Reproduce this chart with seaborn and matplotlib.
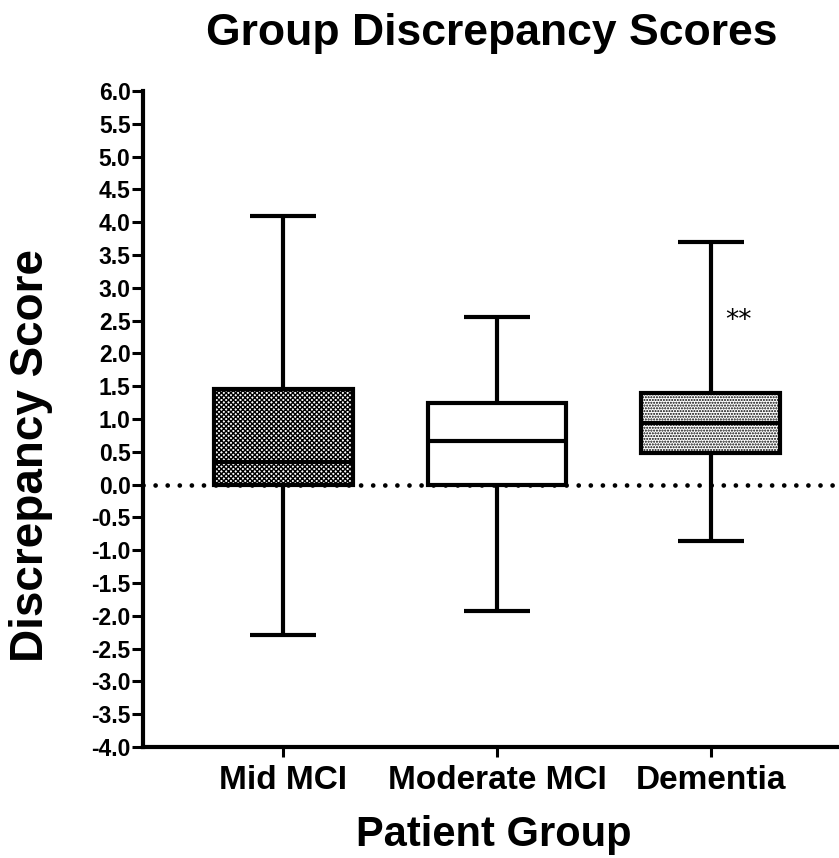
import numpy as np
import pandas as pd
import matplotlib
matplotlib.use("Agg")
import matplotlib.pyplot as plt
import seaborn as sns

# Five-number summaries (min, Q1, median, Q3, max) per patient group
groups = ["Mid MCI", "Moderate MCI", "Dementia"]
mid_mci = [-2.29, 0.00, 0.35, 1.45, 4.09]
moderate_mci = [-1.92, 0.00, 0.67, 1.25, 2.55]
dementia = [-0.86, 0.48, 0.94, 1.40, 3.70]

y_ticks = [-4.0, -3.5, -3.0, -2.5, -2.0, -1.5, -1.0, -0.5, 0.0, 0.5, 1.0,
           1.5, 2.0, 2.5, 3.0, 3.5, 4.0, 4.5, 5.0, 5.5, 6.0]
y_tick_labels = [f"{v:.1f}" for v in y_ticks]

significance_label = "**"
significance_group = 2
significance_y = 2.5

sns.set_style("ticks")
plt.rcParams["font.family"] = ["Liberation Sans", "DejaVu Sans"]
plt.rcParams["font.weight"] = "bold"
plt.rcParams["axes.unicode_minus"] = False
plt.rcParams["hatch.linewidth"] = 1.0
plt.rcParams["hatch.color"] = "black"
for key in ["text.color", "axes.labelcolor", "xtick.color", "ytick.color",
            "axes.edgecolor"]:
    plt.rcParams[key] = "black"

df = pd.DataFrame({
    "Patient Group": np.repeat(groups, 5),
    "Discrepancy Score": mid_mci + moderate_mci + dementia,
})

fig = plt.figure(figsize=(8.39, 8.58), dpi=100)
ax = fig.add_axes([143 / 839, 1 - 747 / 858, 1 - 143 / 839, (747 - 91) / 858])

lw = 3.0
sns.boxplot(
    data=df, x="Patient Group", y="Discrepancy Score", order=groups,
    whis=(0, 100), width=0.65, color="white", linecolor="black",
    linewidth=lw, fliersize=0, capwidths=0.31, ax=ax,
)

hatches = ["xxxxxxx", "", "......"]
for patch, h in zip(ax.patches, hatches):
    patch.set_facecolor("white")
    patch.set_edgecolor("black")
    patch.set_linewidth(lw)
    patch.set_hatch(h)

for line in ax.lines:
    line.set_color("black")
    line.set_linewidth(lw)
    line.set_solid_capstyle("butt")

# zero reference line
ax.axhline(0, color="black", linewidth=3.4, linestyle=(0, (0.01, 2.55)),
           dash_capstyle="round", zorder=5)

ax.text(significance_group + 0.13, significance_y, significance_label,
        ha="center", va="center", fontsize=19, fontweight="normal",
        family="DejaVu Sans")

ax.set_xlim(-0.656, 2.6)
ax.set_ylim(-4.0, 6.0)
ax.set_yticks(y_ticks)
ax.set_yticklabels(y_tick_labels, fontsize=16.5, fontweight="bold")
ax.set_xticks(range(len(groups)))
ax.set_xticklabels(groups, fontsize=24, fontweight="bold")

for side in ["top", "right"]:
    ax.spines[side].set_visible(False)
for side in ["left", "bottom"]:
    ax.spines[side].set_linewidth(lw)
ax.tick_params(axis="y", length=8, width=2.2, pad=1)
ax.tick_params(axis="x", length=7, width=2.2, pad=6)

ax.set_xlabel("Patient Group", fontsize=30, fontweight="bold")
ax.set_ylabel("Discrepancy Score", fontsize=33, fontweight="bold")
ax.xaxis.set_label_coords((494 - 143) / 696, (747 - 815) / 656)
ax.yaxis.set_label_coords((53 - 143) / 696, (747 - 456) / 656)

fig.text(492 / 839, 1 - 33 / 858, "Group Discrepancy Scores",
         ha="center", va="center", fontsize=32, fontweight="bold")

fig.savefig("out.png", dpi=100, facecolor="white")
